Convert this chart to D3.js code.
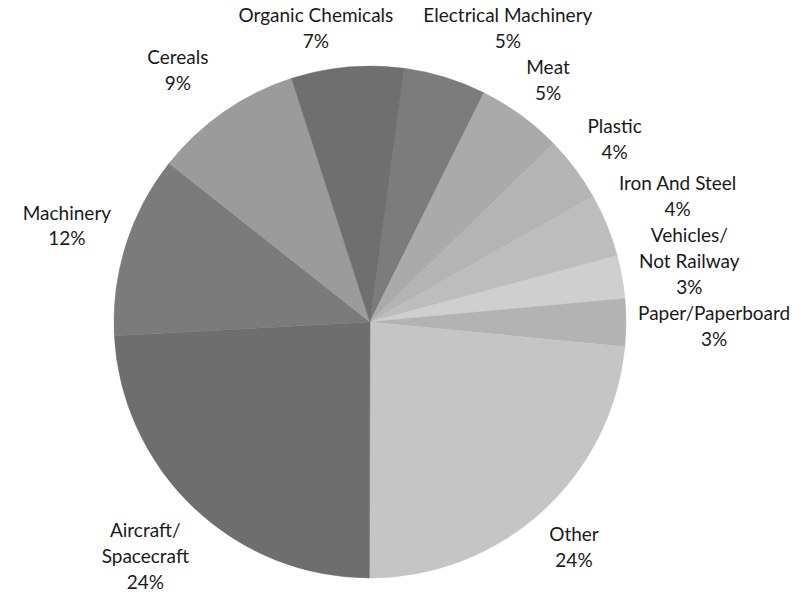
<!DOCTYPE html>
<html>
<head>
<meta charset="utf-8">
<script src="https://cdn.jsdelivr.net/npm/d3@7"></script>
<style>
  body { margin: 0; background: #fff; }
  svg { display: block; }
  text { font-family: Lato, "Open Sans", sans-serif; font-size: 19px; fill: #1a1a1a; }
</style>
</head>
<body>
<svg id="chart"></svg>
<script>
// slices clockwise, starting just right of 12 o'clock
const categories = [
  "Electrical Machinery", "Meat", "Plastic", "Iron And Steel",
  "Vehicles/\nNot Railway", "Paper/Paperboard", "Other",
  "Aircraft/\nSpacecraft", "Machinery", "Cereals", "Organic Chemicals"
];
const shares = [5.2, 5.4, 4.1, 4.0, 2.7, 3.0, 23.5, 24.1, 11.5, 9.4, 7.1];
const greys = [
  "#7c7c7c", "#aaaaaa", "#b4b4b4", "#bdbdbd", "#cfcfcf", "#b3b3b3",
  "#c5c5c5", "#6e6e6e", "#7b7b7b", "#9b9b9b", "#6f6f6f"
];

const width = 812, height = 597;
const cx = 370, cy = 322, radius = 256;
const lineH = 26, gap = 12, pad = 30;

const data = categories.map((c, i) => ({ name: c, value: shares[i], color: greys[i] }));

const svg = d3.select("#chart").attr("width", width).attr("height", height);
const g = svg.append("g").attr("transform", "translate(" + cx + "," + cy + ")");

const startA = 7.7 * Math.PI / 180;
const pie = d3.pie().sort(null).value(d => d.value)
  .startAngle(startA).endAngle(startA + 2 * Math.PI);
const arc = d3.arc().innerRadius(0).outerRadius(radius);

const arcs = pie(data);

g.selectAll("path.slice")
  .data(arcs)
  .enter()
  .append("path")
  .attr("class", "slice")
  .attr("d", arc)
  .attr("fill", d => d.data.color)
  .attr("stroke", d => d.data.color)
  .attr("stroke-width", 0.5);

// labels: build text first so we can measure it
const labels = g.selectAll("g.lab")
  .data(arcs)
  .enter()
  .append("g")
  .attr("class", "lab");

labels.each(function(d) {
  const lines = d.data.name.split("\n").concat([Math.round(d.data.value) + "%"]);
  const t = d3.select(this).append("text").attr("text-anchor", "middle");
  lines.forEach((l, i) => {
    t.append("tspan").attr("x", 0).attr("y", (i - (lines.length - 1) / 2) * lineH).attr("dy", "0.35em").text(l);
  });
  let w = 0;
  t.selectAll("tspan").each(function() { w = Math.max(w, this.getComputedTextLength()); });
  d.w = w;
  d.h = lines.length * lineH;
  const mid = (d.startAngle + d.endAngle) / 2;
  const ux = Math.sin(mid), uy = -Math.cos(mid);
  const dist = radius + gap + Math.abs(ux) * w / 2 + Math.abs(uy) * d.h / 2;
  d.lx = ux * dist;
  d.ly = uy * dist;
});

// keep a box inside the svg
function clamp(d) {
  d.ly = Math.max(d.ly, -cy + d.h / 2 + 2);
  d.ly = Math.min(d.ly, height - cy - d.h / 2 - 2);
  d.lx = Math.max(d.lx, -cx + d.w / 2 + 2);
  d.lx = Math.min(d.lx, width - cx - d.w / 2 - 2);
}

// push overlapping label boxes apart (extra side padding when pushed sideways)
for (let k = 0; k < 60; k++) {
  arcs.forEach((a, i) => {
    arcs.forEach((b, j) => {
      if (j <= i) return;
      const ox = (a.w + b.w) / 2 + pad - Math.abs(a.lx - b.lx);
      const oy = (a.h + b.h) / 2 - Math.abs(a.ly - b.ly);
      if (ox <= 0 || oy <= 0) return;
      if (ox - pad < oy) {
        const s = a.lx < b.lx ? -1 : 1;
        a.lx += s * ox / 2; b.lx -= s * ox / 2;
      } else {
        const s = a.ly < b.ly ? -1 : 1;
        a.ly += s * oy / 2; b.ly -= s * oy / 2;
      }
    });
  });
  arcs.forEach(clamp);
}

labels.attr("transform", d => "translate(" + d.lx + "," + d.ly + ")");
</script>
</body>
</html>
